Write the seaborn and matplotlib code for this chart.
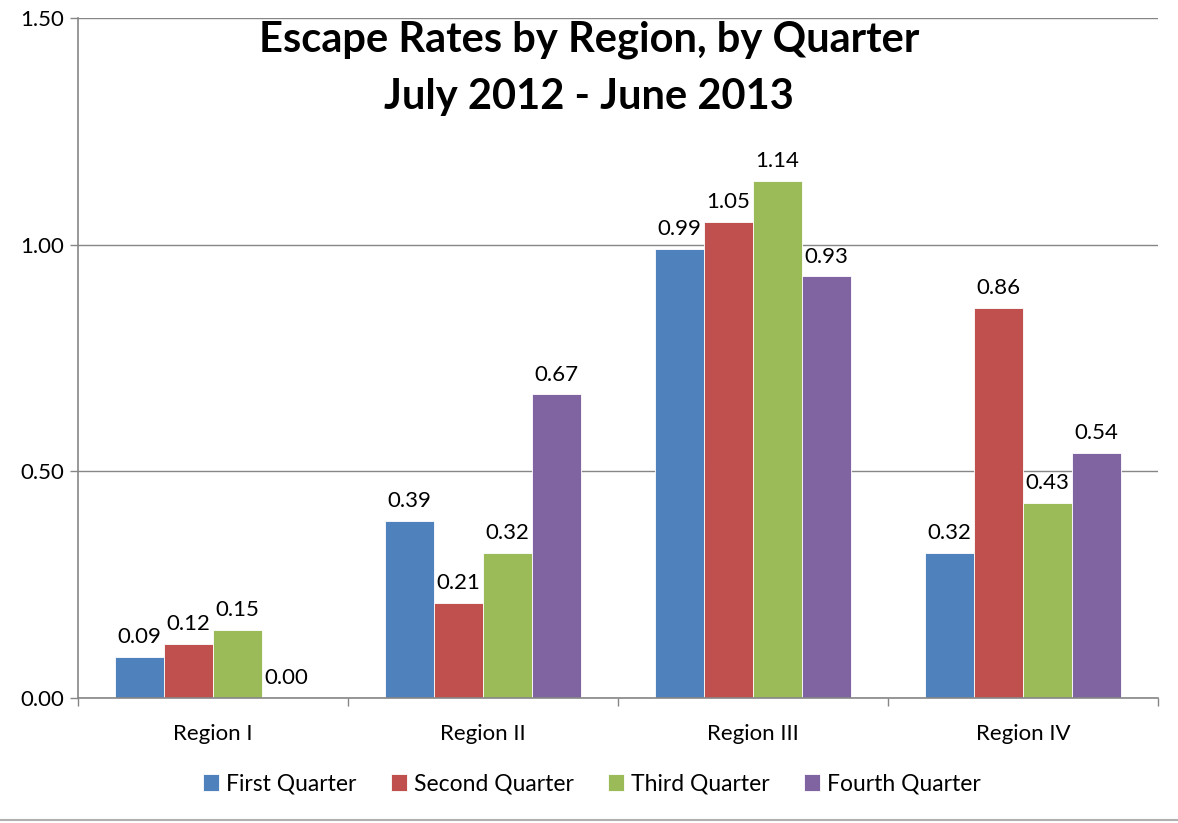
import pandas as pd
import seaborn as sns
import matplotlib.pyplot as plt
from matplotlib.lines import Line2D

regions = ["Region I", "Region II", "Region III", "Region IV"]
quarters = ["First Quarter", "Second Quarter", "Third Quarter", "Fourth Quarter"]
first_q = [0.09, 0.39, 0.99, 0.32]
second_q = [0.12, 0.21, 1.05, 0.86]
third_q = [0.15, 0.32, 1.14, 0.43]
fourth_q = [0.00, 0.67, 0.93, 0.54]
colors = ["#4F81BD", "#C0504D", "#9BBB59", "#8064A2"]

df = pd.DataFrame({
    "region": regions * 4,
    "quarter": [q for q in quarters for _ in regions],
    "rate": first_q + second_q + third_q + fourth_q,
})

sns.set_style("white")
plt.rcParams["font.family"] = ["Lato", "DejaVu Sans"]
plt.rcParams["text.color"] = "black"
plt.rcParams["xtick.color"] = "black"
plt.rcParams["ytick.color"] = "black"

fig = plt.figure(figsize=(11.78, 8.23), dpi=100)
ax = fig.add_axes([78 / 1178, 1 - 698 / 823, 1080 / 1178, 680 / 823])

sns.barplot(
    data=df, x="region", y="rate", hue="quarter",
    order=regions, hue_order=quarters,
    palette=dict(zip(quarters, colors)),
    width=0.726, saturation=1, edgecolor="white", linewidth=0.6,
    ax=ax, legend=True
)

for c in ax.containers:
    ax.bar_label(c, fmt="%.2f", padding=7, fontsize=16)

ax.set_ylim(0, 1.5)
ax.set_xlim(-0.5, 3.5)
ax.set_yticks([0, 0.5, 1.0, 1.5])
ax.set_yticklabels(["0.00", "0.50", "1.00", "1.50"], fontsize=16)
ax.yaxis.grid(True, color="#868686", linewidth=1)
ax.set_axisbelow(True)
ax.set_xlabel("")
ax.set_ylabel("")
ax.tick_params(axis="x", length=0, pad=19, labelsize=16)
ax.set_xticks([-0.5, 0.5, 1.5, 2.5, 3.5], minor=True)
ax.tick_params(axis="x", which="minor", length=6, width=1, color="#868686", direction="out", bottom=True)
ax.tick_params(axis="y", length=6, width=1, color="#868686", labelcolor="black", direction="out", left=True, pad=4)

for s in ["top", "right"]:
    ax.spines[s].set_visible(False)
for s in ["left", "bottom"]:
    ax.spines[s].set_color("#868686")
    ax.spines[s].set_linewidth(1.2)

handles, labels = ax.get_legend_handles_labels()
ax.legend_.remove()
fig.legend(
    handles, labels, loc="center", bbox_to_anchor=(592 / 1178, 1 - 784 / 823),
    ncol=4, frameon=False, fontsize=16.5, handlelength=0.7, handleheight=0.7,
    handletextpad=0.3, columnspacing=1.5
)

fig.text(589 / 1178, 1 - 68 / 823, "Escape Rates by Region, by Quarter\nJuly 2012 - June 2013",
         ha="center", va="center", fontsize=30, fontweight="bold", linespacing=1.6)

fig.add_artist(Line2D([0, 1], [1 - 820 / 823] * 2, color="#b0b0b0", linewidth=1.5))

fig.savefig("out.png", dpi=100)
